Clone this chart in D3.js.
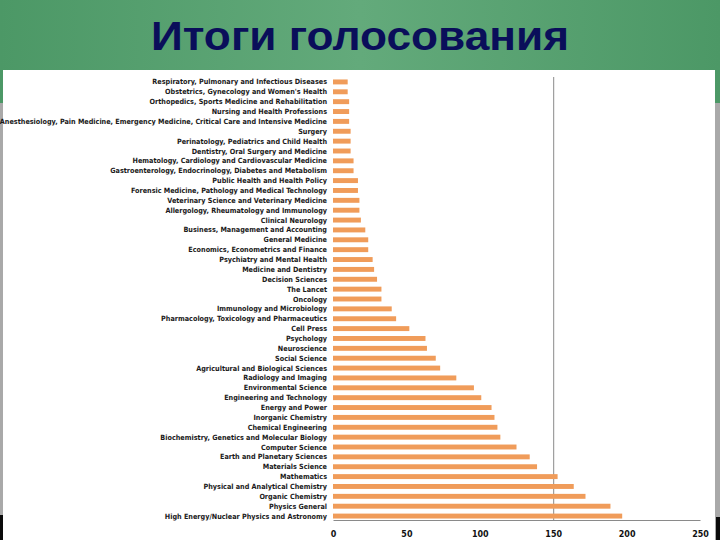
<!DOCTYPE html>
<html><head><meta charset="utf-8">
<script src="https://cdn.jsdelivr.net/npm/d3@7"></script>
<style>html,body{margin:0;padding:0;background:#fff;}svg{display:block;}</style>
</head><body>
<script>
const titleText = "Итоги голосования";
const categories = [
"Respiratory, Pulmonary and Infectious Diseases",
"Obstetrics, Gynecology and Women's Health",
"Orthopedics, Sports Medicine and Rehabilitation",
"Nursing and Health Professions",
"Anesthesiology, Pain Medicine, Emergency Medicine, Critical Care and Intensive Medicine",
"Surgery",
"Perinatology, Pediatrics and Child Health",
"Dentistry, Oral Surgery and Medicine",
"Hematology, Cardiology and Cardiovascular Medicine",
"Gastroenterology, Endocrinology, Diabetes and Metabolism",
"Public Health and Health Policy",
"Forensic Medicine, Pathology and Medical Technology",
"Veterinary Science and Veterinary Medicine",
"Allergology, Rheumatology and Immunology",
"Clinical Neurology",
"Business, Management and Accounting",
"General Medicine",
"Economics, Econometrics and Finance",
"Psychiatry and Mental Health",
"Medicine and Dentistry",
"Decision Sciences",
"The Lancet",
"Oncology",
"Immunology and Microbiology",
"Pharmacology, Toxicology and Pharmaceutics",
"Cell Press",
"Psychology",
"Neuroscience",
"Social Science",
"Agricultural and Biological Sciences",
"Radiology and Imaging",
"Environmental Science",
"Engineering and Technology",
"Energy and Power",
"Inorganic Chemistry",
"Chemical Engineering",
"Biochemistry, Genetics and Molecular Biology",
"Computer Science",
"Earth and Planetary Sciences",
"Materials Science",
"Mathematics",
"Physical and Analytical Chemistry",
"Organic Chemistry",
"Physics General",
"High Energy/Nuclear Physics and Astronomy"
];
const values = [10,10,11,11,11,12,12,12,14,14,17,17,18,18,19,22,24,24,27,28,30,33,33,40,43,52,63,64,70,73,84,96,101,108,110,112,114,125,134,139,153,164,172,189,197];
const xTicks = [0,50,100,150,200,250];

const W = 720, H = 540;
const svg = d3.select("body").append("svg").attr("width", W).attr("height", H);
const defs = svg.append("defs");
const g1 = defs.append("linearGradient").attr("id","hdr").attr("x1","0").attr("x2","1").attr("y1","0").attr("y2","0");
g1.append("stop").attr("offset","0").attr("stop-color","#4c9866");
g1.append("stop").attr("offset","0.5").attr("stop-color","#63aa7b");
g1.append("stop").attr("offset","1").attr("stop-color","#4c9866");

// slide background artefacts
svg.append("rect").attr("x",0).attr("y",0).attr("width",W).attr("height",H).attr("fill","#a9a9a9");
svg.append("rect").attr("x",0).attr("y",0).attr("width",W).attr("height",103).attr("fill","url(#hdr)");
svg.append("rect").attr("x",0).attr("y",515).attr("width",4).attr("height",25).attr("fill","#0a0a0a");
svg.append("rect").attr("x",716).attr("y",517).attr("width",4).attr("height",23).attr("fill","#0a0a0a");
svg.append("rect").attr("x",3).attr("y",70).attr("width",712).attr("height",470).attr("fill","#ffffff");

svg.append("text").attr("x",360).attr("y",50).attr("text-anchor","middle")
  .attr("font-family","Liberation Sans, Arial, sans-serif").attr("font-weight","bold")
  .attr("font-size",40).attr("fill","#0a0e5a").attr("textLength",418).attr("lengthAdjust","spacingAndGlyphs")
  .text(titleText);

const x = d3.scaleLinear().domain([0,250]).range([333,700]);
const y = d3.scaleBand().domain(categories).range([77,521]).paddingInner(0.5).paddingOuter(0.25);

// single vertical line at 150
svg.append("line").attr("x1",x(150)+0.5).attr("x2",x(150)+0.5).attr("y1",77).attr("y2",520)
  .attr("stroke","#8a8a8a").attr("stroke-width",1);

svg.append("g").selectAll("rect").data(values).join("rect")
  .attr("x", x(0))
  .attr("y", (d,i)=>y(categories[i]))
  .attr("width", d=>x(d)-x(0))
  .attr("height", y.bandwidth())
  .attr("fill","#f09c5a");

svg.append("g").selectAll("text").data(categories).join("text")
  .attr("x",327).attr("y",d=>y(d)+y.bandwidth()/2).attr("dy","0.35em")
  .attr("text-anchor","end").attr("font-family","DejaVu Sans Condensed, Liberation Sans Narrow, sans-serif")
  .attr("font-weight","bold").attr("font-size",7.2).attr("fill","#1a1a1a")
  .text(d=>d);

const xAxis = d3.axisBottom(x).tickValues(xTicks).tickSize(0).tickPadding(11);
const ax = svg.append("g").attr("transform","translate(0,520)").call(xAxis);
ax.select(".domain").attr("stroke","#8a8a8a");
ax.selectAll("text").attr("font-family","DejaVu Sans, sans-serif").attr("font-weight","bold")
  .attr("font-size",8).attr("fill","#111");
</script>
</body></html>
